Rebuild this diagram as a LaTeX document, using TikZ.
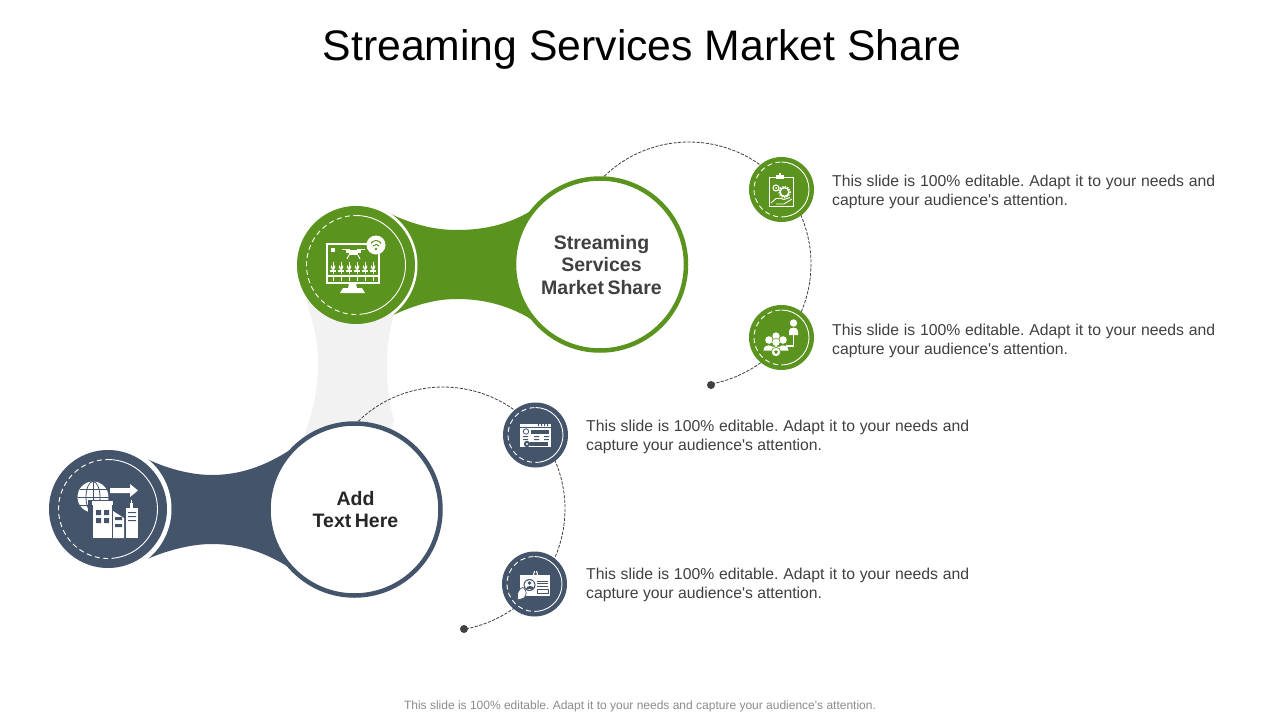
\documentclass[tikz,border=0pt]{standalone}
\usepackage{fontspec}
\setmainfont{Liberation Sans}
\definecolor{grn}{HTML}{5B931F}
\definecolor{nvy}{HTML}{44546A}
\definecolor{txt}{HTML}{404040}
\definecolor{gry}{HTML}{F2F2F2}
\newcommand{\ringed}[2]{%
  \draw[ringsolid] ($(#1)+(-90:#2)$) arc[start angle=-90,end angle=80,radius=#2];
  \draw[ringdash] ($(#1)+(80:#2)$) arc[start angle=80,end angle=270,radius=#2];
}
\usetikzlibrary{calc,shapes.geometric}
\tikzset{
  ringsolid/.style={draw=white,line width=0.9pt},
  ringdash/.style={draw=white,line width=0.9pt,dash pattern=on 5pt off 3.5pt},
  bigcirc/.style={circle,draw=#1,line width=4.5pt,fill=white,minimum size=172pt,inner sep=0pt,outer sep=0pt},
  iconcirc/.style={circle,fill=#1,minimum size=118pt,inner sep=0pt,outer sep=0pt},
  smallcirc/.style={circle,fill=#1,minimum size=65pt,inner sep=0pt,outer sep=0pt},
  maskcirc/.style={circle,fill=white,inner sep=0pt,outer sep=0pt},
  guide/.style={draw=txt,line width=0.8pt,dash pattern=on 3.2pt off 1.4pt},
  dotnode/.style={circle,fill=txt,minimum size=8pt,inner sep=0pt},
  headtext/.style={align=center,font=\fontsize{19.5}{22.5}\selectfont\bfseries},
  bodytext/.style={anchor=north west,text=txt,font=\fontsize{15.75}{19}\selectfont\frenchspacing,inner sep=0pt,align=left},
  wl/.style={draw=white,line width=#1},
  wl/.default=1pt
}
\newcommand{\bodyblock}[2]{\node[bodytext] (#1) at (#2) {\makebox[383pt][s]{This slide is 100\% editable. Adapt it to your needs and}\\capture your audience\textquotesingle s attention.};}
\begin{document}
\begin{tikzpicture}[x=1pt,y=-1pt]
\useasboundingbox (0,0) rectangle (1280,720);
\fill[white] (0,0) rectangle (1280,720);
% bands
\fill[grn] (386,211) -- (393,215) .. controls (415,225) and (435,230) .. (457,230) .. controls (485,230) and (512,224) .. (537,207) -- (570,265) -- (537,323) .. controls (512,306) and (485,299) .. (457,299) .. controls (435,299) and (415,305) .. (393,315) -- (386,319) -- cycle;
\fill[nvy] (140,456) -- (145,458) .. controls (165,468) and (190,475) .. (212,475) .. controls (240,475) and (265,466) .. (290,450) -- (320,509) -- (290,568) .. controls (265,552) and (240,544) .. (212,544) .. controls (190,544) and (165,551) .. (145,560) -- (140,562) -- cycle;
\node[maskcirc,minimum size=125pt] (m1) at (355,265) {};
\node[maskcirc,minimum size=129pt] (m2) at (107,509) {};
% grey link
\fill[gry] (306,300) .. controls (316,330) and (319,350) .. (318,366) .. controls (318,385) and (314,410) .. (304,436) -- (340,500) -- (380,480) -- (394,420) .. controls (388,400) and (387,382) .. (387,366) .. controls (387,350) and (388,335) .. (394,315) -- (356,265) -- cycle;
% guides
\coordinate (g1) at (689,264);
\coordinate (g2) at (443,509);
\node[dotnode] (d1) at (711,385) {};
\node[dotnode] (d2) at (464,629) {};
\draw[guide] ($(g1)+(226:122)$) arc[start angle=226,end angle=440,radius=122];
\draw[guide] ($(g2)+(226:122)$) arc[start angle=226,end angle=440,radius=122];
% icon circles
\node[iconcirc=grn] (i1) at (356,265) {};
\node[iconcirc=nvy] (i2) at (108,509) {};
\node[bigcirc=grn] (b1) at (600,264.5) {};
\node[bigcirc=nvy] (b2) at (354.5,509.5) {};
\node[smallcirc=grn] (s1) at (781.5,189.5) {};
\node[smallcirc=grn] (s2) at (781.5,337.5) {};
\node[smallcirc=nvy] (s3) at (535.5,435) {};
\node[smallcirc=nvy] (s4) at (534.5,584) {};
\ringed{i1}{49.5}
\ringed{i2}{49.5}
\ringed{s1}{27.5}
\ringed{s2}{27.5}
\ringed{s3}{27.5}
\ringed{s4}{27.5}
% monitor icon
\draw[wl=2pt] (327,244) rectangle (379,283);
\fill[white] (328,275) rectangle (378,276.5);
\fill[white] (349,283) -- (356,283) -- (357,289) -- (348,289) -- cycle;
\fill[white] (343,288) -- (362,288) -- (365,293) -- (340,293) -- cycle;
\fill[white] (331,248) rectangle (335,252);
\fill[white] (342,248.5) rectangle (350,250);\fill[white] (357,248.5) rectangle (365,250);
\fill[white] (346,250) rectangle (361,252.5);
\fill[white] (349,252.5) rectangle (358,255);
\draw[white,line width=1pt] (349,255) -- (347,259) (358,255) -- (360,259);
\foreach \px in {331,339,347,355,363,371}{
  \draw[white,line width=1pt] (\px+2,262) -- (\px+2,274);
  \fill[white] (\px,265) -- (\px+2,268) -- (\px+4,265) -- (\px+4,268) -- (\px+2,270) -- (\px,268) -- cycle;
  \fill[white] (\px-1,270) rectangle (\px+5,272);
  \draw[white,line width=1pt] (\px+2,277) -- (\px+2,281);
}
\fill[white] (376,245) circle (9.5);
\draw[grn,line width=1pt] (371,243.5) arc[start angle=210,end angle=330,radius=5.8];
\draw[grn,line width=1pt] (373,246) arc[start angle=215,end angle=325,radius=3.7];
\fill[grn] (376,249) circle (1.3);
% building icon
\fill[white] (93,497) circle (15.5);
\draw[nvy,line width=0.8pt] (93,497) ellipse (7 and 15.5);
\draw[nvy,line width=0.8pt] (93,481.5) -- (93,512.5) (77.5,497) -- (108.5,497) (79.5,489) -- (106.5,489) (79.5,505) -- (106.5,505);
\fill[nvy] (88,500) rectangle (114,540);
\fill[white] (110,488) -- (130,488) -- (130,484) -- (138,490.5) -- (130,497) -- (130,493) -- (110,493) -- cycle;
\fill[white] (92,501) rectangle (113,505);
\fill[white] (93,505) rectangle (111.5,538);
\fill[white] (113,511) -- (124,518) -- (124,538) -- (113,538) -- cycle;
\fill[white] (126,508) rectangle (138,538);
\fill[white] (130,503) rectangle (133,508);
\fill[white] (131,500) rectangle (132,503);
\fill[nvy] (96,510) rectangle (101,515) (104,510) rectangle (109,515) (96,518) rectangle (101,523) (104,518) rectangle (109,523);
\fill[nvy] (115,517) rectangle (122,520) (115,524) rectangle (122,527);
\fill[nvy] (128,512) rectangle (136,513) (128,516) rectangle (136,517) (128,520) rectangle (136,521);
% clipboard icon
\draw[wl=1pt] (769.5,177.5) rectangle (793.5,206.5);
\fill[white] (776,175) rectangle (784,179);
\fill[white] (779,173) rectangle (781,175);
\draw[wl=1.1pt] (776,188) circle (3);
\fill[white] (776,188) circle (1);
\draw[wl=1.4pt] (784.5,192) circle (4.4);
\draw[wl=1.6pt,dash pattern=on 1.3pt off 1.3pt] (784.5,192) circle (5.6);
\draw[wl=0.9pt] (771,203) -- (776,198.5) .. controls (779,197) and (781,199) .. (784,199.5) -- (790,197.5);
\draw[wl=0.9pt] (776,204) -- (784,204) -- (792,199);
% people icon
\fill[white] (793.5,323) circle (3.7);
\fill[white] (789,335) -- (789,331) .. controls (789,326.5) and (798,326.5) .. (798,331) -- (798,335) -- cycle;
\draw[wl=1.2pt] (793.5,335) -- (793.5,346) -- (786,346);
\fill[white] (776,336) circle (3.6);
\fill[white] (769,340) circle (3.8);
\fill[white] (783,340) circle (3.8);
\fill[grn] (776,342.3) circle (4.4);
\fill[white] (776,342.3) circle (3.7);
\fill[white] (763.5,350.5) .. controls (763.5,343.5) and (774,343.5) .. (774.5,350.5) -- cycle;
\fill[white] (778,350.5) .. controls (778,343.5) and (788,343.5) .. (788.5,350.5) -- cycle;
\fill[white] (771,350) .. controls (771,345) and (781,345) .. (781,350) -- cycle;
\fill[grn] (776,352) circle (5);
\fill[white] (776,352) circle (4.2);
\node[star,star points=5,fill=grn,minimum size=4pt,inner sep=0pt] (st) at (776,352) {};
% window icon
\fill[white] (520,424) rectangle (551,447);
\fill[nvy] (520,427.3) rectangle (551,427.8);
\draw[nvy,line width=0.8pt,fill=white] (526,431.5) circle (2.7);
\fill[nvy] (531,429.5) rectangle (548.5,433.5);
\fill[nvy] (523,436) rectangle (528,437) (534,436) rectangle (539,437) (544,436) rectangle (549,437);
\fill[nvy] (523,439) rectangle (528,440) (534,439) rectangle (539,440) (544,439) rectangle (549,440);
\fill[nvy] (527,444) circle (3.2);
\fill[white] (527,444) circle (1.2);
\fill[nvy] (530,442) rectangle (548,445.5);
\fill[nvy] (538,424) rectangle (539,426) (541,424) rectangle (542,426) (544,424) rectangle (545,426) (547,424) rectangle (548,426);
% id card icon
\fill[white] (520,575) rectangle (550,595.5);
\draw[wl=1.1pt] (533.5,575) -- (534.5,571) (537.5,575) -- (536.5,571);
\fill[nvy] (529.5,585) circle (6);
\fill[white] (529.5,585) circle (5);
\fill[nvy] (529.5,583) circle (1.9);
\fill[nvy] (525.5,589) .. controls (525.5,584.5) and (533.5,584.5) .. (533.5,589) -- cycle;
\draw[nvy,line width=0.6pt] (537,581) -- (548,581) (537,583.7) -- (548,583.7) (537,586.4) -- (548,586.4);
\draw[nvy,line width=0.7pt] (537,589.5) rectangle (548,593);
\fill[white,draw=nvy,line width=0.7pt] (518,600) .. controls (516,594) and (519,588) .. (523,587.5) .. controls (527,590) and (527,595) .. (524,598) -- cycle;
% texts
\node[inner sep=0pt,font=\fontsize{42.7}{50}\selectfont] (title) at (642,49) {Streaming Services Market Share};
\node[headtext,text=txt] (t1) at (601.5,265) {Streaming\\Services\\Market\hspace{3.5pt}Share};
\node[headtext,text=black!85] (t2) at (355.5,509.5) {Add\\Text\hspace{3.5pt}Here};
\bodyblock{p1}{832,175}
\bodyblock{p2}{832,324}
\bodyblock{p3}{586,419.5}
\bodyblock{p4}{586,568}
\node[inner sep=0pt,text=black!45,font=\fontsize{12}{14}\selectfont\frenchspacing] (foot) at (640,706) {This slide is 100\% editable. Adapt it to your needs and capture your audience\textquotesingle s attention.};
\end{tikzpicture}
\end{document}
